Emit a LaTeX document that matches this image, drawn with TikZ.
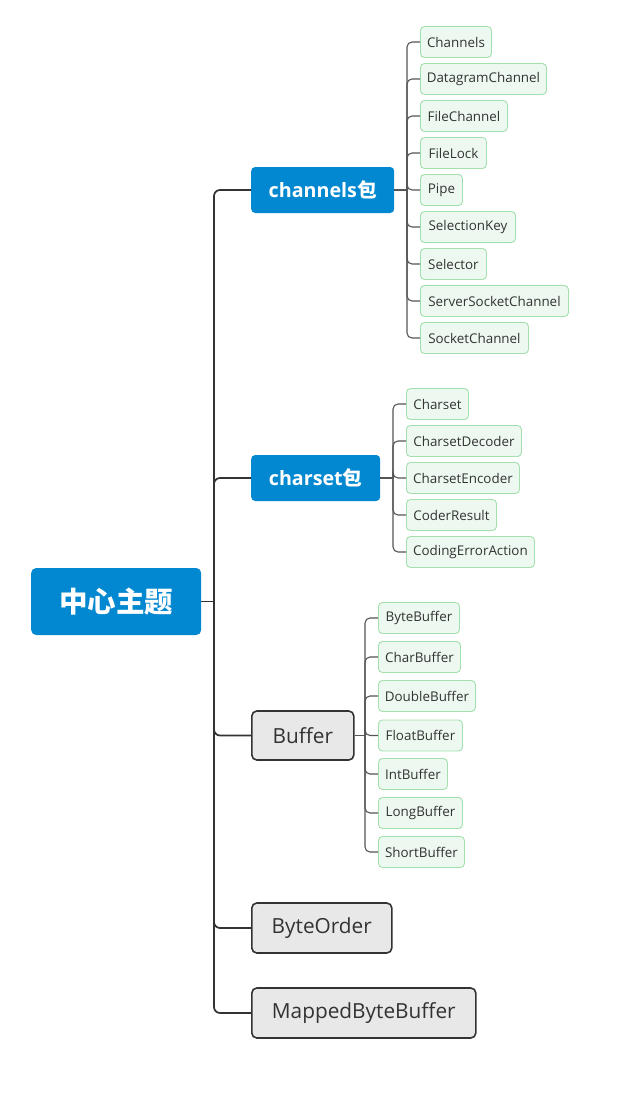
\documentclass[tikz,border=0pt]{standalone}
\usepackage{fontspec}
\setmainfont{Open Sans}
\newfontfamily\cjkfont{Noto Sans CJK SC}
\definecolor{topicblue}{HTML}{0288D1}
\definecolor{leaffill}{HTML}{EDF9F0}
\definecolor{leafdraw}{HTML}{A3E0AE}
\definecolor{grayfill}{HTML}{E8E8E8}
\definecolor{darkline}{HTML}{333333}
\definecolor{subline}{HTML}{555555}
\definecolor{txt}{HTML}{333333}
\begin{document}
\begin{tikzpicture}[x=1pt,y=-1pt,
  rootbox/.style={anchor=west,fill=topicblue,rounded corners=5pt,text=white,inner sep=0pt,
    minimum height=67pt,font=\cjkfont\bfseries\fontsize{28.5}{30}\selectfont},
  bluebox/.style={anchor=west,fill=topicblue,rounded corners=4pt,text=white,inner sep=0pt,
    minimum height=46pt,font=\bfseries\fontsize{19.7}{22}\selectfont},
  graybox/.style={anchor=west,fill=grayfill,draw=darkline,line width=1.6pt,rounded corners=5pt,
    text=txt,inner sep=0pt,minimum height=49pt,font=\fontsize{20.8}{23}\selectfont},
  leaf/.style={anchor=west,fill=leaffill,draw=leafdraw,line width=0.9pt,rounded corners=4pt,
    text=txt,inner sep=0pt,minimum height=31pt,font=\fontsize{13.4}{15}\selectfont},
  mainline/.style={draw=darkline,line width=1.7pt,rounded corners=6pt},
  subconn/.style={draw=subline,line width=1.1pt,rounded corners=5pt}]
\useasboundingbox (0,0) rectangle (641,1106);

% root and main topics
\node[rootbox,minimum width=170pt] (root) at (31,601.5) {中心主题};
\node[bluebox,minimum width=143pt] (ch) at (251,190) {channels{\cjkfont 包}};
\node[bluebox,minimum width=129pt] (cs) at (251,478) {charset{\cjkfont 包}};
\node[graybox,minimum width=102pt] (buf) at (251,735.5) {Buffer};
\node[graybox,minimum width=140pt,minimum height=50pt] (bo) at (251,928) {ByteOrder};
\node[graybox,minimum width=224pt,minimum height=50pt] (mbb) at (251,1013) {MappedByteBuffer};

% channels leaves
\node[leaf,minimum width=71pt] (c1) at (420,42) {Channels};
\node[leaf,minimum width=126pt] (c2) at (420,79) {DatagramChannel};
\node[leaf,minimum width=87pt] (c3) at (420,116) {FileChannel};
\node[leaf,minimum width=66pt] (c4) at (420,153) {FileLock};
\node[leaf,minimum width=42pt] (c5) at (420,190) {Pipe};
\node[leaf,minimum width=95pt] (c6) at (420,227) {SelectionKey};
\node[leaf,minimum width=66pt] (c7) at (420,264) {Selector};
\node[leaf,minimum width=148pt] (c8) at (420,301) {ServerSocketChannel};
\node[leaf,minimum width=108pt] (c9) at (420,338) {SocketChannel};

% charset leaves
\node[leaf,minimum width=62pt] (s1) at (406,404) {Charset};
\node[leaf,minimum width=115pt] (s2) at (406,441) {CharsetDecoder};
\node[leaf,minimum width=113pt] (s3) at (406,478) {CharsetEncoder};
\node[leaf,minimum width=90pt] (s4) at (406,515) {CoderResult};
\node[leaf,minimum width=128pt] (s5) at (406,552) {CodingErrorAction};

% buffer leaves
\node[leaf,minimum width=81pt] (b1) at (378,618) {ByteBuffer};
\node[leaf,minimum width=82pt] (b2) at (378,657) {CharBuffer};
\node[leaf,minimum width=97pt] (b3) at (378,696) {DoubleBuffer};
\node[leaf,minimum width=84pt] (b4) at (378,735.5) {FloatBuffer};
\node[leaf,minimum width=69pt] (b5) at (378,774) {IntBuffer};
\node[leaf,minimum width=84pt] (b6) at (378,813) {LongBuffer};
\node[leaf,minimum width=86pt] (b7) at (378,852) {ShortBuffer};

% junction coordinates
\coordinate (mj) at (214,601.5);
\coordinate (chj) at (407,190);
\coordinate (csj) at (393,478);
\coordinate (bj) at (365,735.5);

% main connectors
\draw[mainline] (root.east) -- (mj);
\foreach \n in {ch,cs,buf,bo,mbb} \draw[mainline] (mj) |- (\n.west);

% sub connectors
\draw[subconn] (ch.east) -- (chj);
\foreach \n in {c1,c2,c3,c4,c5,c6,c7,c8,c9} \draw[subconn] (chj) |- (\n.west);
\draw[subconn] (cs.east) -- (csj);
\foreach \n in {s1,s2,s3,s4,s5} \draw[subconn] (csj) |- (\n.west);
\draw[subconn] (buf.east) -- (bj);
\foreach \n in {b1,b2,b3,b4,b5,b6,b7} \draw[subconn] (bj) |- (\n.west);
\end{tikzpicture}
\end{document}
